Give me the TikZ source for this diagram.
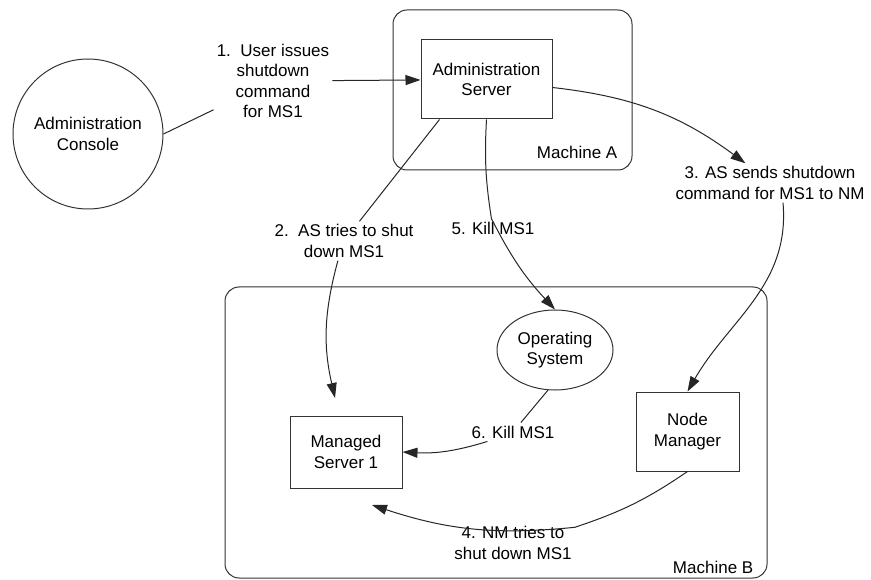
\documentclass[tikz,border=0pt]{standalone}
\usepackage{fontspec}
\setmainfont{Liberation Sans}
\usetikzlibrary{arrows.meta,shapes.geometric}

\tikzset{
  box/.style={draw=black!80, line width=1pt, align=center, inner sep=2pt},
  steplbl/.style={align=center, inner sep=3pt},
  machine/.style={draw=black!80, line width=1pt, rounded corners=14pt, inner sep=0pt},
  conn/.style={draw=black!85, line width=1pt, -{Triangle[length=15pt,width=10pt]}},
}

\begin{document}
\begin{tikzpicture}[x=1pt, y=1pt, font=\fontsize{17}{20.5}\selectfont]
\useasboundingbox (0,0) rectangle (871,-580);

% the two machines
\node[machine, minimum width=239pt, minimum height=160pt] (macha) at (512.5,-90) {};
\node[anchor=east, inner sep=0pt] (machalbl) at ([xshift=-15pt,yshift=18pt]macha.south east) {Machine A};
\node[machine, minimum width=542pt, minimum height=291pt] (machb) at (496,-432.5) {};
\node[anchor=east, inner sep=0pt] (machblbl) at ([xshift=-14pt,yshift=11pt]machb.south east) {Machine B};

% servers and processes
\node[box, circle, minimum size=150pt] (console) at (88,-134) {Administration\\Console};
\node[box, minimum width=131pt, minimum height=79pt] (server) at (486.5,-79.5) {Administration\\Server};
\node[box, ellipse, minimum width=116pt, minimum height=80pt] (os) at (555,-350) {Operating\\System};
\node[box, minimum width=112pt, minimum height=72pt] (ms1) at (346,-452) {Managed\\Server 1};
\node[box, minimum width=103pt, minimum height=79pt] (nm) at (687.5,-431.5) {Node\\Manager};

% step texts
\node[steplbl] (step1) at (273,-81) {1.\ \ User issues\\shutdown\\command\\for MS1};
\node[steplbl] (step2) at (344,-241) {2.\ \ AS tries to shut\\down MS1};
\node[steplbl] (step3) at (770,-183) {3. AS sends shutdown\\command for MS1 to NM};
\node[steplbl] (step4) at (513,-543) {4. NM tries to\\shut down MS1};
\node[steplbl] (step5) at (493,-228) {5. Kill MS1};
\node[steplbl] (step6) at (513,-432) {6. Kill MS1};

% loose arrow ends near Managed Server 1
\coordinate (tip2) at (335,-398);
\coordinate (tip4) at (372,-505);

% the messages
\draw[conn] (console.east) -- (step1) -- (server);
\draw[conn] ([xshift=19pt]server.south west) -- (step2) to[bend right=14] (tip2);
\draw[conn] ([yshift=-8pt]server.east) to[bend left=15] (step3);
\draw[conn] ([xshift=13pt]step3.south) to[out=-85, in=60] (nm.north);
\draw[conn] (nm.south) to[bend left=8] (step4) to[bend left=12] (tip4);
\draw[conn] (server.south) to[bend right=6] (step5) to[bend right=8] (os.north);
\draw[conn] (os.-100) -- (step6) to[bend left=10] (ms1.east);
\end{tikzpicture}
\end{document}
